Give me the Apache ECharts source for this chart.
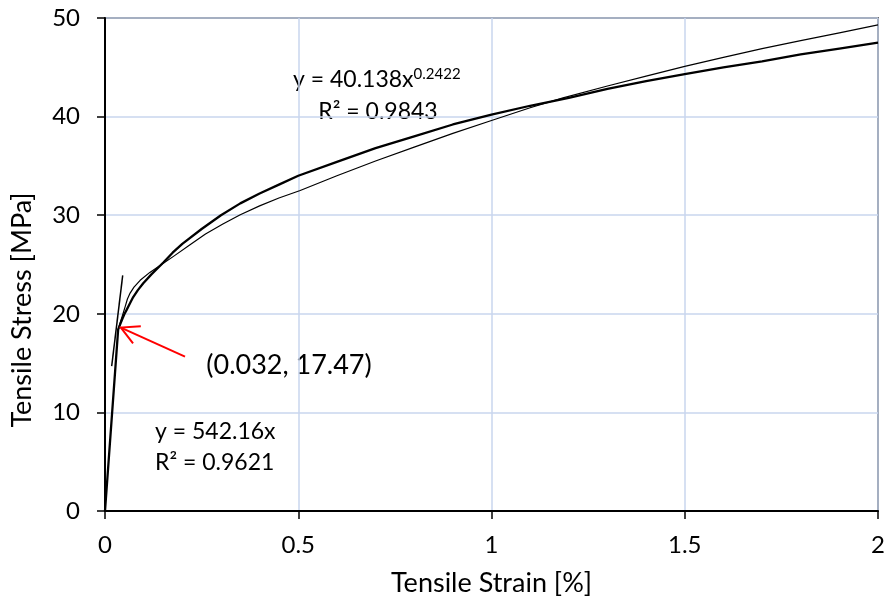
<!DOCTYPE html>
<html>
<head>
<meta charset="utf-8">
<script src="https://cdn.jsdelivr.net/npm/echarts@6/dist/echarts.min.js"></script>
<style>html,body{margin:0;padding:0;background:#fff;}#c{width:889px;height:605px;}</style>
</head>
<body>
<div id="c"></div>
<script>
// Thick curve (elastic + power-law region)
const thickStrain = [0, 0.034, 0.04, 0.045, 0.05, 0.056, 0.065, 0.073, 0.085, 0.099, 0.12, 0.151, 0.175, 0.2, 0.25, 0.3, 0.35, 0.4, 0.45, 0.5, 0.6, 0.7, 0.8, 0.9, 1.0, 1.1, 1.2, 1.3, 1.4, 1.5, 1.6, 1.7, 1.8, 1.9, 2.0];
const thickStress = [0, 18.4, 19.0, 19.5, 19.95, 20.4, 21.1, 21.7, 22.4, 23.1, 24.0, 25.2, 26.2, 27.1, 28.6, 30.0, 31.2, 32.2, 33.1, 34.0, 35.4, 36.8, 38.0, 39.2, 40.2, 41.1, 41.9, 42.8, 43.6, 44.3, 45.0, 45.6, 46.3, 46.9, 47.5];
// Thin curve
const thinStrain = [0.034, 0.04, 0.045, 0.052, 0.058, 0.065, 0.075, 0.091, 0.116, 0.15, 0.18, 0.22, 0.26, 0.305, 0.35, 0.4, 0.45, 0.505, 0.6, 0.7, 0.8, 0.9, 1.0, 1.1, 1.185, 1.3, 1.4, 1.5, 1.6, 1.7, 1.8, 1.9, 2.0];
const thinStress = [18.4, 19.2, 19.8, 20.7, 21.5, 22.1, 22.7, 23.4, 24.2, 25.1, 25.9, 27.0, 28.1, 29.1, 30.05, 30.95, 31.75, 32.5, 34.0, 35.5, 36.9, 38.3, 39.6, 40.9, 41.9, 43.1, 44.1, 45.1, 46.0, 46.9, 47.7, 48.5, 49.3];
// Short straight line (linear fit)
const linStrain = [0.0173, 0.0458];
const linStress = [14.7, 23.9];
// Arrow: start and tip (data coords)
const arrowStart = [0.207, 15.65];
const arrowTip = [0.041, 18.6];
// Ticks
const xTicks = [0, 0.5, 1, 1.5, 2];
const yTicks = [0, 10, 20, 30, 40, 50];

const zip = (a, b) => a.map((v, i) => [v, b[i]]);
const FONT = 'Lato';

const chart = echarts.init(document.getElementById('c'), null, {renderer: 'canvas'});
chart.setOption({
  animation: false,
  backgroundColor: '#fff',
  grid: {left: 105, right: 11, top: 18, bottom: 94, show: true, borderColor: '#000', borderWidth: 1.5, backgroundColor: 'transparent'},
  xAxis: {
    type: 'value', min: xTicks[0], max: xTicks[xTicks.length - 1], interval: 0.5,
    name: 'Tensile Strain [%]', nameLocation: 'middle', nameGap: 59,
    nameTextStyle: {fontFamily: FONT, fontSize: 27, color: '#000'},
    axisLine: {show: true, onZero: false, lineStyle: {color: '#000', width: 2}},
    axisTick: {show: true, length: 8, lineStyle: {color: '#000', width: 1.5}},
    axisLabel: {fontFamily: FONT, fontSize: 24, color: '#000', margin: 22},
    splitLine: {show: true, lineStyle: {color: '#c9d6ee', width: 1.5}}
  },
  yAxis: {
    type: 'value', min: yTicks[0], max: yTicks[yTicks.length - 1], interval: 10,
    axisLine: {show: true, onZero: false, lineStyle: {color: '#000', width: 2}},
    axisTick: {show: true, length: 8, lineStyle: {color: '#000', width: 1.5}},
    axisLabel: {fontFamily: FONT, fontSize: 24, color: '#000', margin: 25},
    splitLine: {show: true, lineStyle: {color: '#c9d6ee', width: 1.5}}
  },
  series: [
    {
      type: 'line', name: 'thin', data: zip(thinStrain, thinStress), showSymbol: false,
      smooth: false,
      lineStyle: {color: '#000', width: 1.2, join: 'round'}, z: 3
    },
    {
      type: 'line', name: 'linear', data: zip(linStrain, linStress), showSymbol: false,
      lineStyle: {color: '#000', width: 1.5}, z: 3
    },
    {
      type: 'line', name: 'thick', data: zip(thickStrain, thickStress), showSymbol: false,
      smooth: false,
      lineStyle: {color: '#000', width: 2.3, join: 'round'}, z: 4
    },
    {
      type: 'custom', name: 'arrow', data: [[arrowStart[0], arrowStart[1], arrowTip[0], arrowTip[1]]],
      z: 5, clip: false,
      renderItem: function (params, api) {
        const p0 = api.coord([api.value(0), api.value(1)]);
        const p1 = api.coord([api.value(2), api.value(3)]);
        const ang = Math.atan2(p0[1] - p1[1], p0[0] - p1[0]);
        const L = 20, spread = 28 * Math.PI / 180;
        const w1 = [p1[0] + L * Math.cos(ang - spread), p1[1] + L * Math.sin(ang - spread)];
        const w2 = [p1[0] + L * Math.cos(ang + spread), p1[1] + L * Math.sin(ang + spread)];
        const st = {stroke: '#ff0000', lineWidth: 2, fill: null};
        return {type: 'group', children: [
          {type: 'line', shape: {x1: p0[0], y1: p0[1], x2: p1[0], y2: p1[1]}, style: st},
          {type: 'polyline', shape: {points: [w1, p1, w2]}, style: st}
        ]};
      }
    }
  ],
  graphic: [
    {type: 'text', x: 22, y: 310, rotation: Math.PI / 2,
      style: {text: 'Tensile Stress [MPa]', font: '27px Lato', fill: '#000', align: 'center', verticalAlign: 'middle'}},
    {type: 'text', x: 293, y: 80,
      style: {text: '{a|y = 40.138x}{s|0.2422}', align: 'left', verticalAlign: 'middle',
        rich: {a: {fontFamily: FONT, fontSize: 23, color: '#000'}, s: {fontFamily: FONT, fontSize: 15, color: '#000', verticalAlign: 'top', padding: [0, 0, 11, 0]}}}},
    {type: 'text', x: 378, y: 112,
      style: {text: 'R² = 0.9843', font: '23px Lato', fill: '#000', align: 'center', verticalAlign: 'middle'}},
    {type: 'text', x: 289, y: 365,
      style: {text: '(0.032, 17.47)', font: '27px Lato', fill: '#000', align: 'center', verticalAlign: 'middle'}},
    {type: 'text', x: 155, y: 432,
      style: {text: 'y = 542.16x', font: '23px Lato', fill: '#000', align: 'left', verticalAlign: 'middle'}},
    {type: 'text', x: 155, y: 463,
      style: {text: 'R² = 0.9621', font: '23px Lato', fill: '#000', align: 'left', verticalAlign: 'middle'}}
  ]
});
</script>
</body>
</html>
